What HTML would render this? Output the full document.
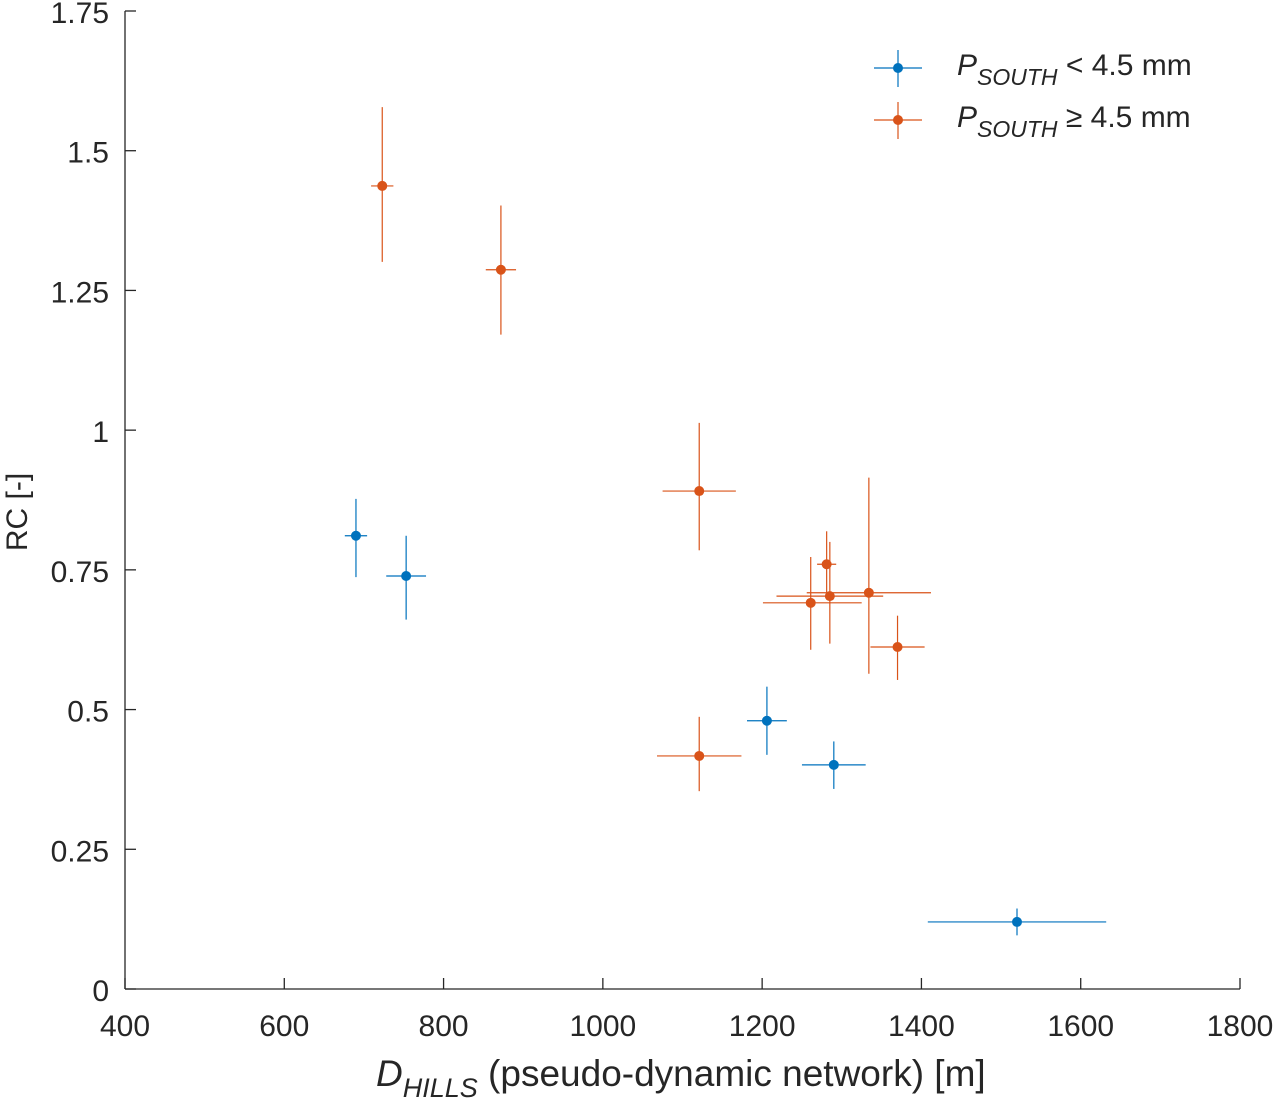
<!DOCTYPE html>
<html><head><meta charset="utf-8"><style>
body{margin:0;background:#fff;}
svg text{font-family:"Liberation Sans",Arial,sans-serif;fill:#262626;}
</style></head><body>
<svg id="chart" width="1275" height="1104" xmlns="http://www.w3.org/2000/svg"></svg>
<script>
const xTicks=[400,600,800,1000,1200,1400,1600,1800];
const yTicks=[0,0.25,0.5,0.75,1,1.25,1.5,1.75];
const yTickLabels=["0","0.25","0.5","0.75","1","1.25","1.5","1.75"];
// blue series: P_SOUTH < 4.5 mm
const blueX=[690,753,1206,1290,1520];
const blueY=[0.811,0.739,0.480,0.401,0.120];
const blueXErr=[14,25,25,40,112];
const blueYErrUp=[0.066,0.072,0.061,0.042,0.024];
const blueYErrDn=[0.074,0.078,0.061,0.043,0.024];
// orange series: P_SOUTH >= 4.5 mm
const orangeX=[723,872,1121,1121,1261,1281,1285,1334,1370];
const orangeY=[1.437,1.287,0.891,0.417,0.691,0.760,0.703,0.709,0.612];
const orangeXErrL=[14,19,46,53,60,12,67,78,34];
const orangeXErrR=[14,19,46,53,64,12,67,78,34];
const orangeYErrUp=[0.141,0.115,0.122,0.07,0.082,0.059,0.097,0.206,0.056];
const orangeYErrDn=[0.136,0.116,0.106,0.063,0.084,0.053,0.085,0.145,0.059];

const svg=document.getElementById('chart');
const NS='http://www.w3.org/2000/svg';
const X0=125,X1=1240,Y0=989,Y1=11;
const sx=v=>X0+(v-400)/1400*(X1-X0);
const sy=v=>Y0-v/1.75*(Y0-Y1);
function mk(tag,attrs,parent){const e=document.createElementNS(NS,tag);for(const k in attrs)e.setAttribute(k,attrs[k]);(parent||svg).appendChild(e);return e;}

const axes=mk('g',{});


mk('line',{x1:X0,y1:Y0,x2:X1,y2:Y0,stroke:'#262626','stroke-width':1.3},axes);
mk('line',{x1:X0,y1:Y0,x2:X0,y2:Y1,stroke:'#262626','stroke-width':1.3},axes);
xTicks.forEach(t=>{
  const x=sx(t);
  mk('line',{x1:x,y1:Y0,x2:x,y2:Y0-11,stroke:'#262626','stroke-width':1.3},axes);
  const tx=mk('text',{x:x,y:Y0+47,'font-size':30,'text-anchor':'middle'},axes);
  tx.textContent=t;
  
  
});
yTicks.forEach((t,i)=>{
  const y=sy(t);
  mk('line',{x1:X0,y1:y,x2:X0+11,y2:y,stroke:'#262626','stroke-width':1.3},axes);
  const tx=mk('text',{x:X0-16,y:y+12,'font-size':30,'text-anchor':'end'},axes);
  tx.textContent=yTickLabels[i];
  
  
});

function drawPoint(x,y,xl,xr,yu,yd,color,name){
  const g=mk('g',{});
  
  
  mk('line',{x1:sx(x-xl),y1:sy(y),x2:sx(x+xr),y2:sy(y),stroke:color,'stroke-width':1.2},g);
  mk('line',{x1:sx(x),y1:sy(y+yu),x2:sx(x),y2:sy(y-yd),stroke:color,'stroke-width':1.2},g);
  mk('circle',{cx:sx(x),cy:sy(y),r:5,fill:color},g);
}
blueX.forEach((x,i)=>drawPoint(x,blueY[i],blueXErr[i],blueXErr[i],blueYErrUp[i],blueYErrDn[i],'#0072BD','blue-point'));
orangeX.forEach((x,i)=>drawPoint(x,orangeY[i],orangeXErrL[i],orangeXErrR[i],orangeYErrUp[i],orangeYErrDn[i],'#D95319','orange-point'));
</script>
<svg style="position:absolute;left:0;top:0" width="1275" height="1104">
  <g>
    <g>
      <line x1="874" y1="68" x2="922" y2="68" stroke="#0072BD" stroke-width="1.2"/>
      <line x1="898" y1="50" x2="898" y2="87" stroke="#0072BD" stroke-width="1.2"/>
      <circle cx="898" cy="68" r="5" fill="#0072BD"/>
      <text x="957" y="75" font-size="30"><tspan font-style="italic">P</tspan><tspan font-style="italic" font-size="23" dy="10">SOUTH</tspan><tspan dy="-10"> &lt; 4.5 mm</tspan></text>
    </g>
    <g>
      <line x1="874" y1="120" x2="922" y2="120" stroke="#D95319" stroke-width="1.2"/>
      <line x1="898" y1="102" x2="898" y2="139" stroke="#D95319" stroke-width="1.2"/>
      <circle cx="898" cy="120" r="5" fill="#D95319"/>
      <text x="957" y="127" font-size="30"><tspan font-style="italic">P</tspan><tspan font-style="italic" font-size="23" dy="10">SOUTH</tspan><tspan dy="-10"> ≥ 4.5 mm</tspan></text>
    </g>
  </g>
  <text x="376" y="1086" font-size="37"><tspan font-style="italic">D</tspan><tspan font-style="italic" font-size="27" dy="11">HILLS</tspan><tspan dy="-11"> (pseudo-dynamic network) [m]</tspan></text>
  <text x="0" y="0" font-size="30" text-anchor="middle" transform="translate(27,512) rotate(-90)">RC [-]</text>
</svg>
</body></html>
